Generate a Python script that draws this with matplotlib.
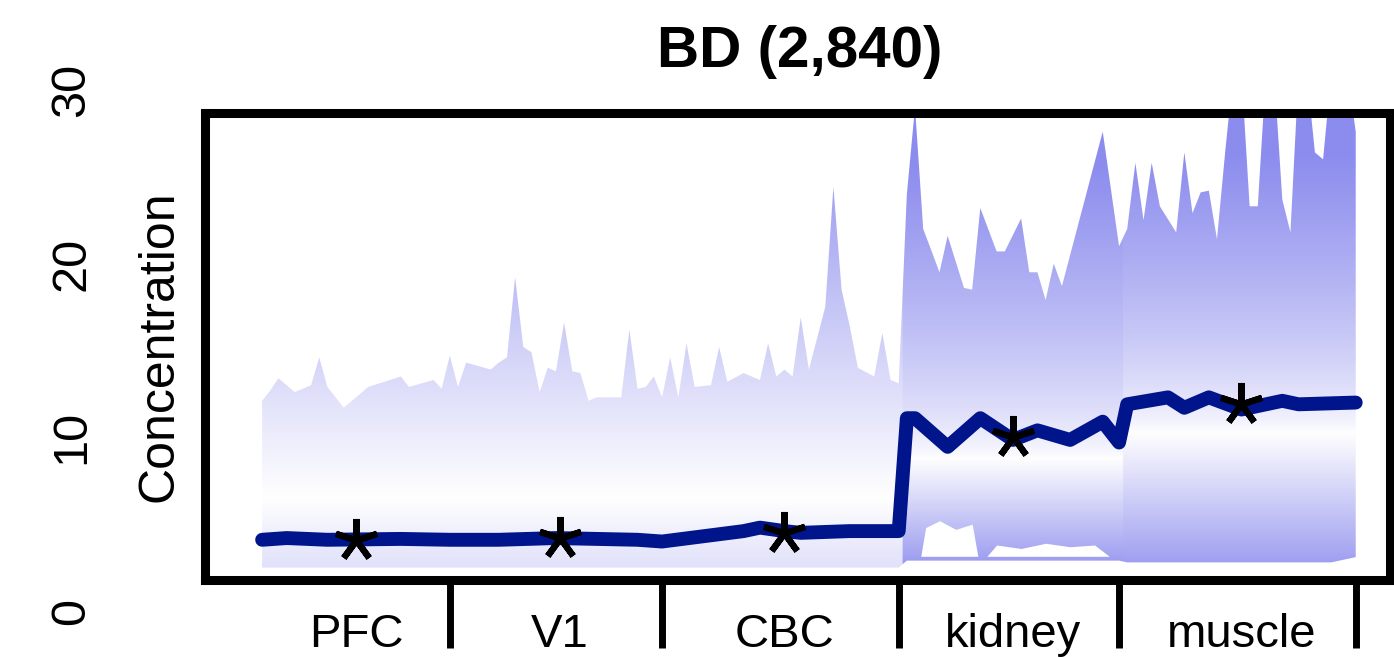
import numpy as np
import matplotlib
matplotlib.use("Agg")
import matplotlib.pyplot as plt
from matplotlib.patches import Polygon
from matplotlib.transforms import blended_transform_factory

plt.rcParams['font.family'] = ['Liberation Sans', 'DejaVu Sans']

title = "BD (2,840)"
tissues = ["PFC", "V1", "CBC", "kidney", "muscle"]
n_samples = [24, 26, 29, 27, 29]
tissue_means = [4.1, 4.2, 4.5, 10.0, 11.9]
ytick_values = [0, 10, 20, 30]

# upper edge of the light profile lines (sample index, concentration)
upper_idx = [1, 2, 3, 5, 7, 8, 9, 11, 14, 18, 19, 22, 23, 24,
             25, 26, 29, 30, 31, 32, 33, 34, 35, 36, 37, 38, 39, 40, 41, 42, 45, 46, 47, 48, 49, 50,
             51, 52, 53, 54, 56, 57, 58, 60, 62, 63, 64, 65, 66, 67, 68, 70, 71, 72, 73, 74, 76, 77, 78, 79,
             80, 81, 82, 84, 85, 87, 88, 89, 91, 92, 94, 95, 96, 97, 98, 99, 104, 106,
             107, 108, 109, 110, 111, 113, 114, 115, 116, 117, 118, 119, 120, 121,
             122, 123, 124, 125, 126, 127, 128, 129, 130, 131, 132, 133, 134, 135]
upper_val = [12.1, 12.7, 13.4, 12.6, 13.0, 14.6, 12.9, 11.7, 12.9, 13.5, 12.9, 13.3, 12.8, 14.7,
             12.9, 14.3, 13.9, 14.3, 14.6, 19.2, 15.2, 14.9, 12.6, 14.0, 13.8, 16.6, 13.8, 13.7, 12.1, 12.3,
             12.3, 16.2, 12.8, 12.9, 13.5, 12.3,
             14.6, 12.3, 15.4, 12.9, 13.0, 15.2, 13.2, 13.7, 13.3, 15.4, 13.5, 13.9, 13.5, 16.9, 13.9,
             17.5, 24.4, 18.5, 16.4, 14.0, 13.5, 16.0, 13.3, 13.1,
             24.0, 29.0, 22.0, 19.5, 21.6, 18.6, 18.5, 23.2, 20.7, 20.7, 22.6, 19.5, 19.5, 17.9, 20.0, 18.7, 27.6, 21.0,
             22.0, 25.8, 22.5, 25.8, 23.3, 21.8, 26.4, 22.9, 24.1, 24.2, 21.4, 26.4, 31.0, 31.0,
             23.3, 23.3, 31.0, 31.0, 23.7, 21.8, 31.0, 31.0, 26.4, 26.0, 31.0, 31.0, 31.0, 27.6]

# lower edge of the profile lines
lower_idx = [1, 79, 80, 106, 107, 132, 135]
lower_val = [2.5, 2.5, 2.9, 2.9, 2.8, 2.8, 3.1]

# white pockets between the lowest kidney profiles
gap1_idx = [81.7, 82.3, 84.0, 86.0, 88.0, 88.7]
gap1_top = [3.15, 4.8, 5.2, 4.7, 5.0, 3.15]
gap2_idx = [89.8, 91.0, 94.0, 97.0, 100.0, 103.0, 104.8]
gap2_top = [3.15, 3.8, 3.6, 3.9, 3.7, 3.8, 3.15]
gap_bottom = 3.15

# average profile (dark line)
mean_idx = [1, 4, 9, 18, 24, 30, 37, 47, 50, 55, 60, 62, 65, 67, 73, 79,
            80, 81, 85, 89, 93, 96, 100, 104, 106,
            107, 112, 114, 117, 121, 126, 128, 135]
mean_val = [4.1, 4.2, 4.1, 4.15, 4.1, 4.1, 4.2, 4.1, 4.0, 4.3, 4.6, 4.8, 4.6, 4.5, 4.6, 4.6,
            11.1, 11.1, 9.45, 11.1, 9.85, 10.4, 9.85, 10.9, 9.7,
            11.9, 12.3, 11.7, 12.3, 11.6, 12.1, 11.9, 12.0]

# shading: white at "centre", towards blue further away (per tissue)
shade_centre = [6.5, 6.5, 6.5, 8.8, 10.3]
shade_up = [22.0, 22.0, 22.0, 17.0, 16.0]
shade_pow = [1.0, 1.0, 1.0, 0.7, 0.7]
shade_lo = [15.0, 15.0, 15.0, 7.0, 9.0]
blue = np.array([140, 140, 238]) / 255.0

last_idx = np.cumsum(n_samples)
first_idx = last_idx - np.array(n_samples) + 1
centres = (first_idx + last_idx) / 2.0

fig = plt.figure(figsize=(13.94, 6.57), dpi=100)
ax = fig.add_axes([205 / 1394, 77 / 657, 1185 / 1394, 467 / 657])
ax.set_xlim(-6.0, 139.2)
ax.set_ylim(1.785, 28.67)

# gradient image clipped to the band of profiles
xg = np.linspace(0.5, last_idx[-1] + 0.5, 1400)
yg = np.linspace(1.5, 31.5, 700)
X, Y = np.meshgrid(xg, yg)
tis = np.searchsorted(last_idx + 0.5, X)
tis = np.clip(tis, 0, len(tissues) - 1)
c = np.array(shade_centre)[tis]
up = np.clip((Y - c) / np.array(shade_up)[tis], 0, 1) ** np.array(shade_pow)[tis]
lo = np.clip((c - Y) / np.array(shade_lo)[tis], 0, 1)
t = np.where(Y > c, up, lo)
rgb = 1 - t[..., None] * (1 - blue)
im = ax.imshow(rgb, extent=(xg[0], xg[-1], yg[0], yg[-1]), origin='lower',
               aspect='auto', interpolation='bilinear', zorder=1)
band = Polygon(np.column_stack([np.concatenate([upper_idx, lower_idx[::-1]]),
                                np.concatenate([upper_val, lower_val[::-1]])]),
               closed=True, facecolor='none', edgecolor='none', transform=ax.transData)
ax.add_patch(band)
im.set_clip_path(band)

ax.fill_between(gap1_idx, gap_bottom, gap1_top, color='white', lw=0, zorder=2)
ax.fill_between(gap2_idx, gap_bottom, gap2_top, color='white', lw=0, zorder=2)

ax.plot(mean_idx, mean_val, color='#00148c', lw=10, solid_capstyle='round',
        solid_joinstyle='round', zorder=4)
ax.plot(centres, tissue_means, ls='none', marker=(5, 2, 0), ms=31, mew=4.5,
        color='black', zorder=5)

for s in ax.spines.values():
    s.set_linewidth(6.5)
    s.set_color('black')

ax.set_yticks([])
ax.set_xticks(last_idx)
ax.set_xticklabels([])
ax.tick_params(axis='x', length=49, width=5, direction='out', color='black')

tx = blended_transform_factory(ax.transData, ax.transAxes)
for name, cx in zip(tissues, centres):
    ax.text(cx, -0.143, name, transform=tx, ha='center', va='baseline', fontsize=34)

ty = blended_transform_factory(ax.transAxes, ax.transData)
for v in ytick_values:
    ax.text(-0.1122, v, str(v), transform=ty, rotation=90, ha='center', va='center',
            fontsize=35, clip_on=False)

ax.text(-0.038, 0.5, "Concentration", transform=ax.transAxes, rotation=90,
        ha='center', va='center', fontsize=36)

fig.text(800 / 1394, 1 - 67 / 657, title, ha='center', va='baseline',
         fontsize=42, fontweight='bold')

fig.savefig("out.png", dpi=100)
